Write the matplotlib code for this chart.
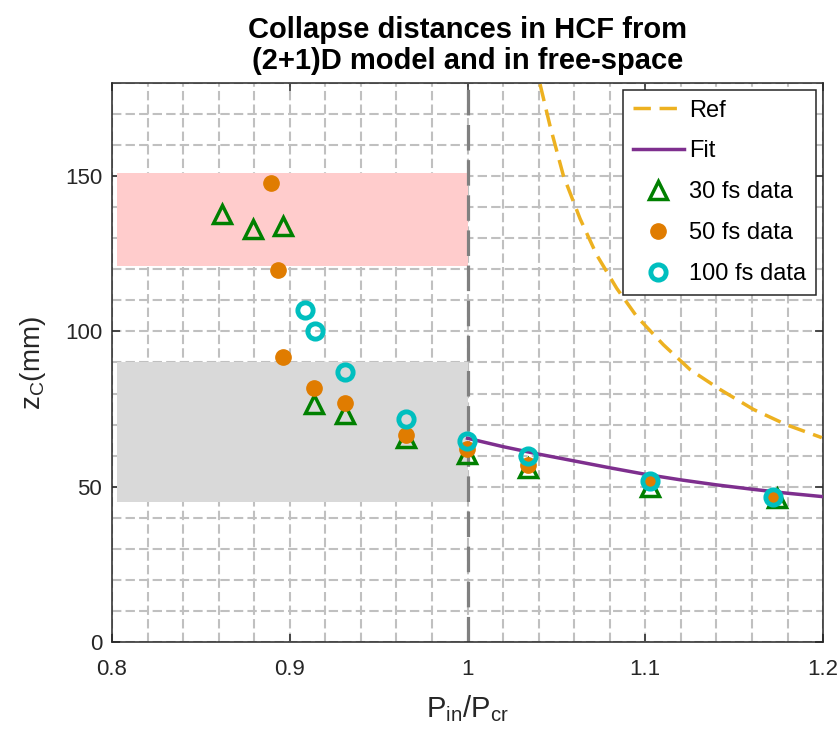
import matplotlib
matplotlib.use("Agg")
import matplotlib.pyplot as plt
from matplotlib.patches import Rectangle
from matplotlib.ticker import MultipleLocator

# data
x30 = [0.862, 0.8795, 0.8964, 0.9138, 0.9311, 0.9654, 0.9995, 1.0342, 1.1027, 1.174]
y30 = [137.9, 133.1, 134.0, 76.5, 73.3, 65.8, 60.5, 56.0, 50.0, 46.3]

x50 = [0.8896, 0.8932, 0.896, 0.9138, 0.9311, 0.9654, 0.9995, 1.034, 1.1027, 1.1717]
y50 = [147.8, 119.8, 91.8, 81.8, 76.8, 66.7, 62.0, 57.0, 51.9, 47.0]

x100 = [0.9084, 0.914, 0.9309, 0.9654, 0.9995, 1.0342, 1.1027, 1.1717]
y100 = [106.8, 100.0, 87.0, 71.7, 64.7, 59.9, 51.9, 46.8]

ref_x = [1.0408, 1.0464, 1.0539, 1.0633, 1.0727, 1.0839, 1.0952, 1.1102,
         1.1252, 1.1421, 1.1608, 1.1796, 1.1993]
ref_y = [179.6, 166.2, 150.2, 136.3, 124.6, 113.9, 104.8, 95.7,
         87.7, 81.3, 74.9, 69.9, 65.8]

fit_x = [1.0, 1.02, 1.04, 1.06, 1.08, 1.10, 1.12, 1.14, 1.16, 1.18, 1.20]
fit_y = [65.6, 62.9, 60.5, 58.3, 56.1, 54.0, 52.2, 50.6, 49.2, 47.9, 46.8]

# shaded bands: (x0, x1, y0, y1)
pink_band = (0.803, 1.0, 121, 151)
gray_band = (0.803, 1.0, 45, 90)

plt.rcParams["font.family"] = ["Liberation Sans", "DejaVu Sans"]
plt.rcParams["mathtext.fontset"] = "custom"
plt.rcParams["mathtext.rm"] = "Liberation Sans"

fig = plt.figure(figsize=(8.39, 7.41), dpi=100)
ax = fig.add_axes([0.1335, 0.1336, 0.8475, 0.7544])

ax.set_xlim(0.8, 1.2)
ax.set_ylim(0, 180)

# grid behind everything
ax.set_axisbelow(True)
ax.xaxis.set_major_locator(MultipleLocator(0.1))
ax.xaxis.set_minor_locator(MultipleLocator(0.02))
ax.yaxis.set_major_locator(MultipleLocator(50))
ax.yaxis.set_minor_locator(MultipleLocator(10))
ax.grid(which="both", color="#c0c0c0", linewidth=1.5, dashes=(4.5, 2))

for x0, x1, y0, y1, col in [(*pink_band, "#ffcccc"), (*gray_band, "#d9d9d9")]:
    ax.add_patch(Rectangle((x0, y0), x1 - x0, y1 - y0, facecolor=col,
                           edgecolor="none", zorder=1))

ax.axvline(1.0, color="#808080", linewidth=2.3, dashes=(8, 3), zorder=2)

ax.plot(ref_x, ref_y, color="#edb120", linewidth=2.5, dashes=(5, 2.5),
        label="Ref", zorder=3)
ax.plot(fit_x, fit_y, color="#7e2f8e", linewidth=2.5, label="Fit", zorder=3)

ax.plot(x30, y30, linestyle="none", marker="^", markersize=13,
        markerfacecolor="none", markeredgecolor="#008000",
        markeredgewidth=2.5, label="30 fs data", zorder=4)
ax.plot(x50, y50, linestyle="none", marker="o", markersize=11,
        color="#e07c00", label="50 fs data", zorder=5)
ax.plot(x100, y100, linestyle="none", marker="o", markersize=11,
        markerfacecolor="none", markeredgecolor="#00bfbf",
        markeredgewidth=3.5, label="100 fs data", zorder=6)

ax.set_xticks([0.8, 0.9, 1.0, 1.1, 1.2])
ax.set_xticklabels(["0.8", "0.9", "1", "1.1", "1.2"])
ax.set_yticks([0, 50, 100, 150])
ax.tick_params(which="major", direction="in", length=6, width=1.1,
               top=True, right=True, labelsize=16, colors="#262626")
ax.tick_params(axis="x", pad=12)
ax.tick_params(axis="y", pad=7)
ax.tick_params(which="minor", length=0)
for sp in ax.spines.values():
    sp.set_linewidth(1.1)
    sp.set_color("#262626")

ax.set_xlabel(r"$\mathregular{P_{in}/P_{cr}}$", fontsize=21, color="#262626",
              labelpad=10)
ax.set_ylabel(r"$\mathregular{z_C}$(mm)", fontsize=20, color="#262626",
              labelpad=12)
ax.set_title("Collapse distances in HCF from\n(2+1)D model and in free-space",
             fontsize=21, fontweight="bold", pad=10, linespacing=1.12)

leg = ax.legend(loc="upper right", fontsize=17, numpoints=1, handlelength=2.15,
                labelspacing=0.8, handletextpad=0.25, borderpad=0.4,
                fancybox=False, framealpha=1, edgecolor="#262626",
                borderaxespad=0.3)
leg.get_frame().set_linewidth(1.1)

fig.savefig("out.png", dpi=100)
